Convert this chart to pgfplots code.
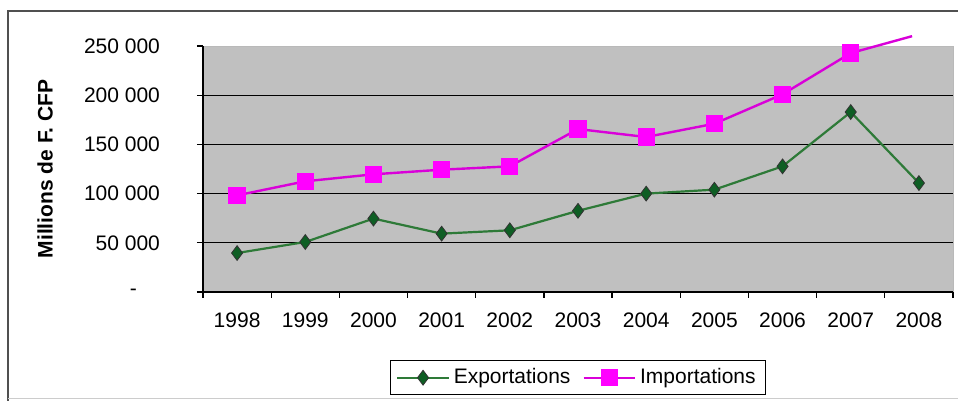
\documentclass[border=0pt]{standalone}
\usepackage{pgfplots}
\pgfplotsset{compat=1.18}
\usepackage{fontspec}
\setmainfont{Liberation Sans}

\definecolor{plotgray}{HTML}{C0C0C0}
\definecolor{expgreen}{HTML}{2E7A38}
\definecolor{expfill}{HTML}{0E5E24}
\definecolor{impmag}{HTML}{FF00FF}
\definecolor{framegray}{HTML}{505050}

\begin{document}
\begin{tikzpicture}[font=\fontsize{10.5}{12}\selectfont]
% picture = 958 x 401 px, 1 px = 0.5pt, axis box SW corner at px (203,292)
\useasboundingbox (-101.5pt,-54.5pt) rectangle (377.5pt,146pt);
\fill[white] (-101.5pt,-54.5pt) rectangle (377.5pt,146pt);
\draw[framegray, line width=0.9pt] (-97.5pt,-80pt) -- (-97.5pt,140.5pt) -- (400pt,140.5pt);
\draw[gray!40, line width=0.6pt] (-97.5pt,-53.3pt) -- (400pt,-53.3pt);

\begin{axis}[
    at={(0pt,0pt)}, anchor=south west,
    scale only axis,
    width=375pt, height=123pt,
    xmin=-0.5, xmax=10.5,
    ymin=0, ymax=250000,
    clip=false,
    axis background/.style={fill=plotgray, draw=gray!55},
    axis x line*=bottom, axis y line*=left,
    axis line style={-, black, line width=0.8pt},
    tick align=outside,
    major tick length=3pt,
    tick style={black, line width=0.6pt},
    xtick={-0.5,0.5,...,10.5},
    xticklabels={1998,1999,2000,2001,2002,2003,2004,2005,2006,2007,2008},
    x tick label as interval,
    xticklabel style={yshift=-4pt},
    ytick={0,50000,100000,150000,200000,250000},
    yticklabels={{\makebox[15pt][l]{-}},50 000,100 000,150 000,200 000,250 000},
    yticklabel style={anchor=east, xshift=-15pt},
    scaled y ticks=false,
    extra y ticks={50000,100000,150000,200000},
    extra y tick labels={},
    extra y tick style={major tick length=0pt, ymajorgrids=true,
        major grid style={black, line width=0.7pt}},
    legend columns=2,
    legend style={at={(0.5,0)}, anchor=north, yshift=-34pt,
        draw=black, line width=0.6pt, fill=white,
        inner xsep=3pt, inner ysep=2pt,
        /tikz/every even column/.append style={column sep=4pt}},
    legend image code/.code={%
        \draw[mark repeat=2, mark phase=2] plot coordinates {(0cm,0cm) (0.45cm,0cm) (0.9cm,0cm)};},
]

\addplot[expgreen, line width=1.1pt, mark=diamond*, mark size=3.7pt,
    mark options={fill=expfill, draw=black!80, line width=0.4pt}]
    coordinates {
    (0,39600) (1,50800) (2,74600) (3,59300) (4,62700) (5,82500)
    (6,100000) (7,104000) (8,127700) (9,182900) (10,110700)
    };
\addlegendentry{Exportations}

\addplot[impmag!85!black, line width=1.2pt, mark=square*, mark size=3.7pt,
    mark options={fill=impmag, draw=impmag}]
    coordinates {
    (0,98200) (1,112500) (2,119600) (3,124300) (4,127700) (5,165600)
    (6,157500) (7,171000) (8,200900) (9,242800)
    };
\addlegendentry{Importations}

\addplot[impmag!85!black, line width=1.2pt, mark=none, forget plot]
    coordinates {(9,242800) (9.9,260000)};

\end{axis}

\node[rotate=90, font=\fontsize{10.5}{12}\selectfont\bfseries] at (-79pt,61.5pt) {Millions de F. CFP};
\end{tikzpicture}
\end{document}
